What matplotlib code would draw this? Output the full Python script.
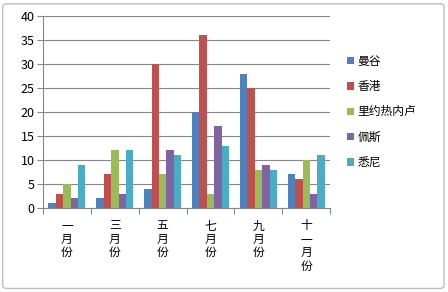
import numpy as np
import matplotlib
matplotlib.use("Agg")
import matplotlib.pyplot as plt
from matplotlib.patches import FancyBboxPatch

plt.rcParams['font.family'] = ['Noto Sans CJK SC', 'DejaVu Sans']

months = ["一月份", "三月份", "五月份", "七月份", "九月份", "十一月份"]
series_names = ["曼谷", "香港", "里约热内卢", "佩斯", "悉尼"]
bangkok = [1, 2, 4, 20, 28, 7]
hongkong = [3, 7, 30, 36, 25, 6]
rio = [5, 12, 7, 3, 8, 10]
perth = [2, 3, 12, 17, 9, 3]
sydney = [9, 12, 11, 13, 8, 11]
colors = ["#4F81BD", "#C0504D", "#9BBB59", "#8064A2", "#4BACC6"]

fig = plt.figure(figsize=(4.48, 2.92), dpi=100)
ax = fig.add_axes([0.096, 0.288, 0.641, 0.657])

# light chart border
fig.patches.append(FancyBboxPatch((0.006, 0.012), 0.985, 0.975, boxstyle="round,pad=0,rounding_size=0.01",
                                  transform=fig.transFigure, fill=False, edgecolor="#BFBFBF", linewidth=1))

x = np.arange(len(months))
width = 0.155
all_series = [bangkok, hongkong, rio, perth, sydney]
for i, (vals, name, c) in enumerate(zip(all_series, series_names, colors)):
    ax.bar(x + (i - 2) * width, vals, width, color=c, label=name, zorder=3)

ax.set_xlim(-0.5, len(months) - 0.5)
ax.set_ylim(0, 40)
ax.set_yticks(range(0, 41, 5))
ax.tick_params(axis="y", labelsize=9, length=4, color="#868686", pad=2)
ax.yaxis.grid(True, color="#868686", linewidth=0.8, zorder=0)

ax.set_xticks(np.arange(-0.5, len(months), 1.0))
ax.set_xticklabels([])
ax.tick_params(axis="x", length=4, color="#868686")
for xi, m in zip(x, months):
    ax.text(xi, -0.06, "\n".join(m), transform=ax.get_xaxis_transform(),
            ha="center", va="top", fontsize=8.5, linespacing=1.05)

for s in ["top", "right"]:
    ax.spines[s].set_visible(False)
for s in ["left", "bottom"]:
    ax.spines[s].set_color("#868686")

ax.legend(loc="center left", bbox_to_anchor=(1.02, 0.5), frameon=False, fontsize=8.5,
          handlelength=0.6, handleheight=0.6, handletextpad=0.3, labelspacing=1.05)

fig.savefig("out.png", dpi=100)
